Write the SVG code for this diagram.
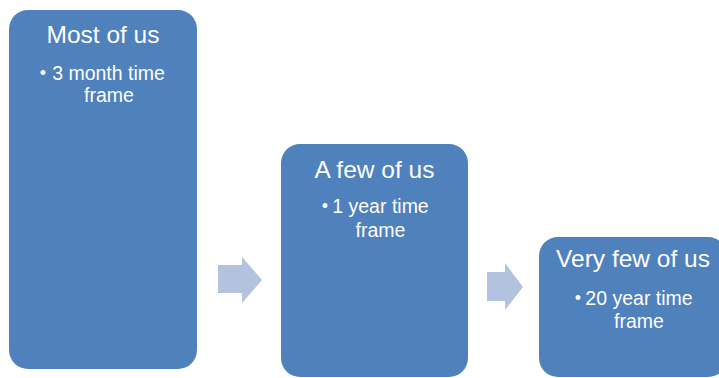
<svg xmlns="http://www.w3.org/2000/svg" width="719" height="378" viewBox="0 0 719 378">
<style>
.box{fill:#4F81BD;}
.arrow{fill:#B3C2DE;}
.title{font-family:"Liberation Sans",Arial,sans-serif;font-size:24.5px;fill:#FFFFFF;text-anchor:middle;}
.item{font-family:"Liberation Sans",Arial,sans-serif;font-size:19.5px;fill:#FFFFFF;text-anchor:middle;}
.bullet{font-family:"Liberation Sans",Arial,sans-serif;font-size:18px;fill:#FFFFFF;text-anchor:middle;}
</style>
<rect width="719" height="378" fill="#FFFFFF"/>
<g id="connectors">
<polygon class="arrow" points="218,265 242,265 242,257 262,280 242,303 242,293 218,293"/>
<polygon class="arrow" points="487,272 505,272 505,263 523,287 505,310 505,301 487,301"/>
</g>
<g id="node-most">
<rect class="box" x="9" y="10" width="188" height="359" rx="19" ry="19"/>
<text class="title" x="103" y="43">Most of us</text>
<text class="bullet" x="43" y="79">•</text>
<text class="item" x="108.5" y="80">3 month time</text>
<text class="item" x="109" y="102">frame</text>
</g>
<g id="node-few">
<rect class="box" x="281" y="144" width="187" height="233" rx="19" ry="19"/>
<text class="title" x="374.5" y="178">A few of us</text>
<text class="bullet" x="325" y="212">•</text>
<text class="item" x="380.5" y="213">1 year time</text>
<text class="item" x="380.5" y="237">frame</text>
</g>
<g id="node-veryfew">
<rect class="box" x="539" y="237" width="188" height="140" rx="19" ry="19"/>
<text class="title" x="633" y="267">Very few of us</text>
<text class="bullet" x="578" y="304">•</text>
<text class="item" x="639" y="305">20 year time</text>
<text class="item" x="639" y="328">frame</text>
</g>
</svg>
